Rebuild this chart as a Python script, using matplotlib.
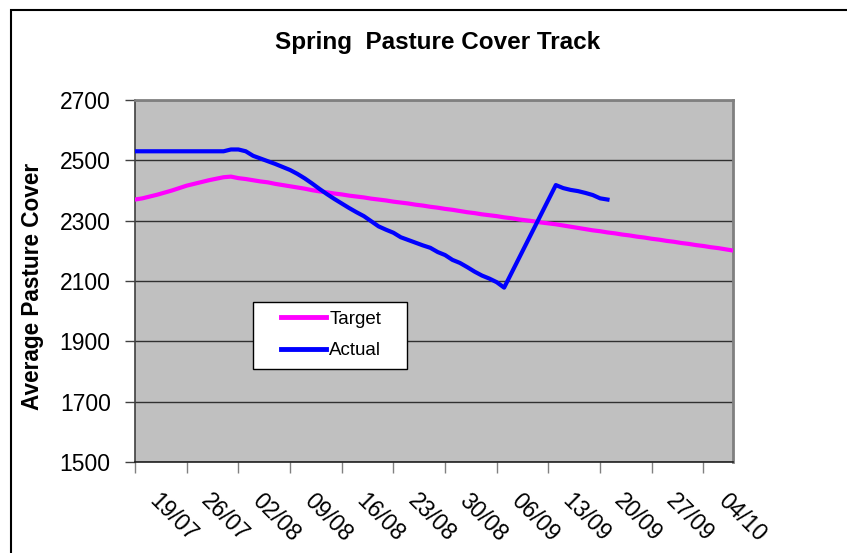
import matplotlib
matplotlib.use("Agg")
import matplotlib.pyplot as plt
import matplotlib.transforms as mtrans
from matplotlib.patches import Rectangle
import pandas as pd

# ---- data ----
start_date = "19/07"
target_values = [
    2370, 2374, 2380, 2386, 2393, 2400, 2408, 2416, 2422, 2428, 2434, 2439, 2444, 2446,
    2441, 2438, 2434, 2430, 2427, 2422, 2418, 2414, 2410, 2406, 2401, 2397, 2394, 2390,
    2387, 2383, 2380, 2377, 2373, 2370, 2367, 2363, 2360, 2357, 2353, 2350, 2346, 2343,
    2339, 2336, 2332, 2328, 2325, 2321, 2318, 2315, 2311, 2308, 2304, 2301, 2298, 2294,
    2291, 2288, 2284, 2280, 2276, 2272, 2268, 2265, 2261, 2258, 2254, 2251, 2247, 2244,
    2240, 2237, 2233, 2230, 2226, 2223, 2219, 2216, 2212, 2209, 2205, 2201,
]
actual_dates = [
    "19/07", "31/07", "01/08", "02/08", "03/08", "04/08", "05/08", "06/08", "07/08",
    "08/08", "09/08", "10/08", "11/08", "12/08", "13/08", "14/08", "15/08", "16/08",
    "17/08", "18/08", "19/08", "20/08", "21/08", "22/08", "23/08", "24/08", "25/08",
    "26/08", "27/08", "28/08", "29/08", "30/08", "31/08", "01/09", "02/09", "03/09",
    "04/09", "05/09", "06/09", "07/09", "14/09", "15/09", "16/09", "17/09", "18/09",
    "19/09", "20/09", "21/09",
]
actual_values = [
    2530, 2530, 2536, 2536, 2530, 2515, 2506, 2497, 2488,
    2478, 2468, 2455, 2440, 2423, 2405, 2388, 2372, 2357,
    2342, 2328, 2315, 2298, 2281, 2270, 2260, 2245, 2236,
    2227, 2218, 2210, 2196, 2186, 2170, 2160, 2146, 2131,
    2118, 2108, 2096, 2078, 2418, 2408, 2402, 2398, 2392,
    2385, 2374, 2370,
]
tick_labels = ["19/07", "26/07", "02/08", "09/08", "16/08", "23/08",
               "30/08", "06/09", "13/09", "20/09", "27/09", "04/10"]
y_ticks = [1500, 1700, 1900, 2100, 2300, 2500, 2700]

def to_dt(s):
    return pd.to_datetime(s + "/2000", format="%d/%m/%Y")

target_dates = pd.date_range(to_dt(start_date), periods=len(target_values), freq="D")
actual_dt = [to_dt(s) for s in actual_dates]
tick_dt = [to_dt(s) for s in tick_labels]

# ---- figure ----
W, H = 847, 553
plt.rcParams["font.family"] = ["Liberation Sans", "DejaVu Sans"]
fig = plt.figure(figsize=(W / 100, H / 100), dpi=100)

# outer chart frame (extends past the image edges)
fig.patches.append(Rectangle((11 / W, -0.1), 1.2, 1 - 10 / H + 0.1,
                             transform=fig.transFigure, fill=False,
                             edgecolor="black", linewidth=1.5, clip_on=False))

left, right, top, bottom = 135, 733, 100, 462
ax = fig.add_axes([left / W, 1 - bottom / H, (right - left) / W, (bottom - top) / H])
ax.set_facecolor("#C0C0C0")

ax.plot(target_dates, target_values, color="#FF00FF", lw=3, label="Target",
        solid_joinstyle="round", zorder=3)
ax.plot(actual_dt, actual_values, color="#0000FF", lw=3, label="Actual",
        solid_joinstyle="round", zorder=4)

ax.set_xlim(target_dates[0], target_dates[-1])
ax.set_ylim(1500, 2700)
ax.set_yticks(y_ticks)
ax.set_yticklabels([str(v) for v in y_ticks], fontsize=16.5)
ax.yaxis.grid(True, color="#303030", lw=1.0)
ax.set_axisbelow(True)

ax.set_xticks(tick_dt)
ax.set_xticklabels([])
offset = mtrans.ScaledTranslation(38 / 100, -56 / 100, fig.dpi_scale_trans)
xtrans = ax.get_xaxis_transform() + offset
for d, lab in zip(tick_dt, tick_labels):
    ax.text(d, 0, lab, transform=xtrans, fontsize=16.5, rotation=-45,
            ha="center", va="center", rotation_mode="anchor", clip_on=False)

ax.tick_params(axis="y", direction="out", length=7, width=1, color="#404040", pad=10.5)
ax.tick_params(axis="x", direction="out", length=8, width=1, color="#808080")

ax.spines["left"].set_color("#404040")
ax.spines["left"].set_linewidth(1.2)
ax.spines["bottom"].set_color("#202020")
ax.spines["bottom"].set_linewidth(1.2)
ax.spines["top"].set_color("#808080")
ax.spines["top"].set_linewidth(2)
ax.spines["right"].set_color("#808080")
ax.spines["right"].set_linewidth(2)

# legend: frame box + entries
lx0, ly0, lx1, ly1 = 253, 302, 407, 369
frame = Rectangle((lx0 / W, 1 - ly1 / H), (lx1 - lx0) / W, (ly1 - ly0) / H,
                  transform=fig.transFigure, facecolor="white", edgecolor="black",
                  linewidth=1, zorder=5)
ax.add_artist(frame)
frame.set_clip_on(False)
leg = ax.legend(loc="center left",
                bbox_to_anchor=(281 / W, 1 - 335 / H),
                bbox_transform=fig.transFigure,
                fontsize=13.5, frameon=False, handlelength=2.4, handletextpad=0.17,
                borderpad=0, labelspacing=0.78, borderaxespad=0)
leg.set_zorder(6)
for line in leg.get_lines():
    line.set_linewidth(3.5)

fig.text(438 / W, 1 - 43 / H, "Spring  Pasture Cover Track", ha="center", va="center",
         fontsize=17.5, fontweight="bold")
fig.text(33 / W, 1 - 286 / H, "Average Pasture Cover", ha="center", va="center",
         rotation=90, fontsize=16.3, fontweight="bold")

fig.savefig("out.png", dpi=100)
